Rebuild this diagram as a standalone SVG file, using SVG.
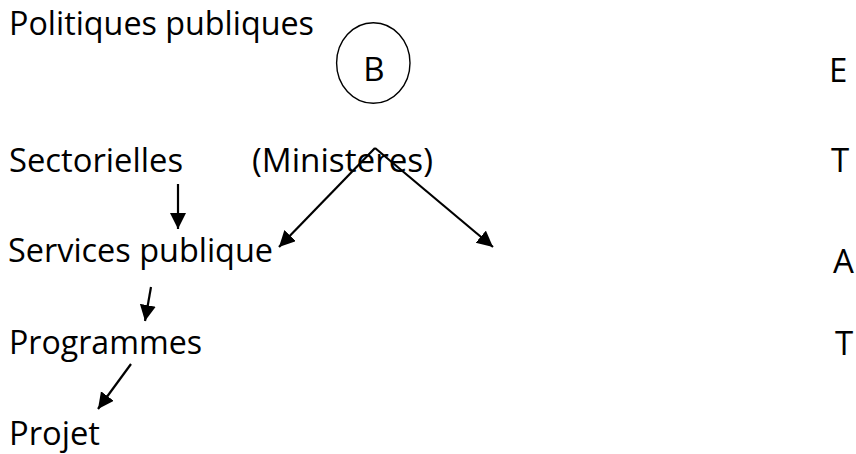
<svg xmlns="http://www.w3.org/2000/svg" width="856" height="454" viewBox="0 0 856 454">
<style>
  text { font-family: "Open Sans", "Liberation Sans", sans-serif; font-size: 33px; fill: #000; }
  .conn line { stroke: #000; stroke-width: 2.2; marker-end: url(#ah); }
</style>
<defs>
  <marker id="ah" markerUnits="userSpaceOnUse" markerWidth="17" markerHeight="17" refX="16" refY="8" orient="auto" viewBox="0 0 17 17">
    <path d="M0,0 L16,8 L0,16 z" fill="#000"/>
  </marker>
</defs>
<rect width="856" height="454" fill="#fff"/>
<g id="politiques"><text x="9" y="35" textLength="305" lengthAdjust="spacingAndGlyphs">Politiques publiques</text></g>
<g id="nodeB">
  <ellipse cx="373.3" cy="63" rx="36.7" ry="40.3" fill="none" stroke="#000" stroke-width="1.4"/>
  <text x="374" y="81" text-anchor="middle">B</text>
</g>
<g id="sectorielles"><text x="9" y="172" textLength="174" lengthAdjust="spacingAndGlyphs">Sectorielles</text></g>
<g id="ministeres"><text x="252" y="172" textLength="181" lengthAdjust="spacingAndGlyphs">(Ministeres)</text></g>
<g id="services"><text x="8" y="262" textLength="265" lengthAdjust="spacingAndGlyphs">Services publique</text></g>
<g id="programmes"><text x="9" y="354" textLength="193" lengthAdjust="spacingAndGlyphs">Programmes</text></g>
<g id="projet"><text x="9" y="445" textLength="91" lengthAdjust="spacingAndGlyphs">Projet</text></g>
<g id="etat">
  <text x="829" y="82">E</text>
  <text x="831" y="172">T</text>
  <text x="833" y="273">A</text>
  <text x="835" y="355">T</text>
</g>
<g class="conn" id="connectors">
  <line x1="178" y1="184" x2="178" y2="229"/>
  <line x1="151" y1="287" x2="145" y2="321"/>
  <line x1="131" y1="364" x2="98" y2="409"/>
  <line x1="375" y1="148" x2="279" y2="247"/>
  <line x1="375" y1="148" x2="493" y2="247"/>
</g>
</svg>
